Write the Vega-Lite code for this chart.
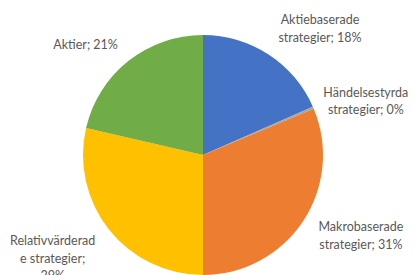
{
  "$schema": "https://vega.github.io/schema/vega-lite/v6.json",
  "width": 406,
  "height": 240,
  "autosize": {"type": "none"},
  "padding": {"left": 0, "top": 35, "right": 8, "bottom": 0},
  "background": "white",
  "config": {"view": {"stroke": null}},
  "data": {
    "values": [
      {"idx": 1, "category": "Aktiebaserade strategier", "label": "Aktiebaserade\nstrategier; 18%", "value": 18.4},
      {"idx": 2, "category": "Händelsestyrda strategier", "label": "Händelsestyrda\nstrategier; 0%", "value": 0.3},
      {"idx": 3, "category": "Makrobaserade strategier", "label": "Makrobaserade\nstrategier; 31%", "value": 31.3},
      {"idx": 4, "category": "Relativvärderade strategier", "label": "Relativvärderad\ne strategier;\n29%", "value": 28.6},
      {"idx": 5, "category": "Aktier", "label": "Aktier; 21%", "value": 21.4}
    ]
  },
  "transform": [
    {"stack": "value", "groupby": [], "sort": [{"field": "idx", "order": "ascending"}], "as": ["t0", "t1"]},
    {"calculate": "(datum.t0 + datum.t1) / 2", "as": "mid"}
  ],
  "layer": [
    {
      "mark": {"type": "arc", "outerRadius": 120},
      "encoding": {
        "theta": {"field": "t0", "type": "quantitative", "scale": {"domain": [0, 100.0]}},
        "theta2": {"field": "t1"},
        "color": {
          "field": "category",
          "type": "nominal",
          "legend": null,
          "scale": {
            "domain": ["Aktiebaserade strategier", "Händelsestyrda strategier", "Makrobaserade strategier", "Relativvärderade strategier", "Aktier"],
            "range": ["#4472C4", "#A5A5A5", "#ED7D31", "#FFC000", "#70AD47"]
          }
        }
      }
    },
    {
      "transform": [{"filter": "datum.idx == 1"}],
      "mark": {"type": "text", "radius": 150, "dx": 35, "dy": -9, "lineBreak": "\n", "font": "Lato", "fontSize": 12.5, "lineHeight": 17.5, "color": "#595959", "align": "center", "baseline": "middle"},
      "encoding": {"theta": {"field": "mid", "type": "quantitative", "scale": {"domain": [0, 100.0]}}, "text": {"field": "label"}}
    },
    {
      "transform": [{"filter": "datum.idx == 2"}],
      "mark": {"type": "text", "radius": 150, "dx": 25, "dy": -3, "lineBreak": "\n", "font": "Lato", "fontSize": 12.5, "lineHeight": 17.5, "color": "#595959", "align": "center", "baseline": "middle"},
      "encoding": {"theta": {"field": "mid", "type": "quantitative", "scale": {"domain": [0, 100.0]}}, "text": {"field": "label"}}
    },
    {
      "transform": [{"filter": "datum.idx == 3"}],
      "mark": {"type": "text", "radius": 150, "dx": 33, "dy": -11, "lineBreak": "\n", "font": "Lato", "fontSize": 12.5, "lineHeight": 17.5, "color": "#595959", "align": "center", "baseline": "middle"},
      "encoding": {"theta": {"field": "mid", "type": "quantitative", "scale": {"domain": [0, 100.0]}}, "text": {"field": "label"}}
    },
    {
      "transform": [{"filter": "datum.idx == 4"}],
      "mark": {"type": "text", "radius": 150, "dx": -33, "dy": -7, "lineBreak": "\n", "font": "Lato", "fontSize": 12.5, "lineHeight": 17.5, "color": "#595959", "align": "center", "baseline": "middle"},
      "encoding": {"theta": {"field": "mid", "type": "quantitative", "scale": {"domain": [0, 100.0]}}, "text": {"field": "label"}}
    },
    {
      "transform": [{"filter": "datum.idx == 5"}],
      "mark": {"type": "text", "radius": 150, "dx": -24, "dy": 7, "lineBreak": "\n", "font": "Lato", "fontSize": 12.5, "lineHeight": 17.5, "color": "#595959", "align": "center", "baseline": "middle"},
      "encoding": {"theta": {"field": "mid", "type": "quantitative", "scale": {"domain": [0, 100.0]}}, "text": {"field": "label"}}
    }
  ]
}
